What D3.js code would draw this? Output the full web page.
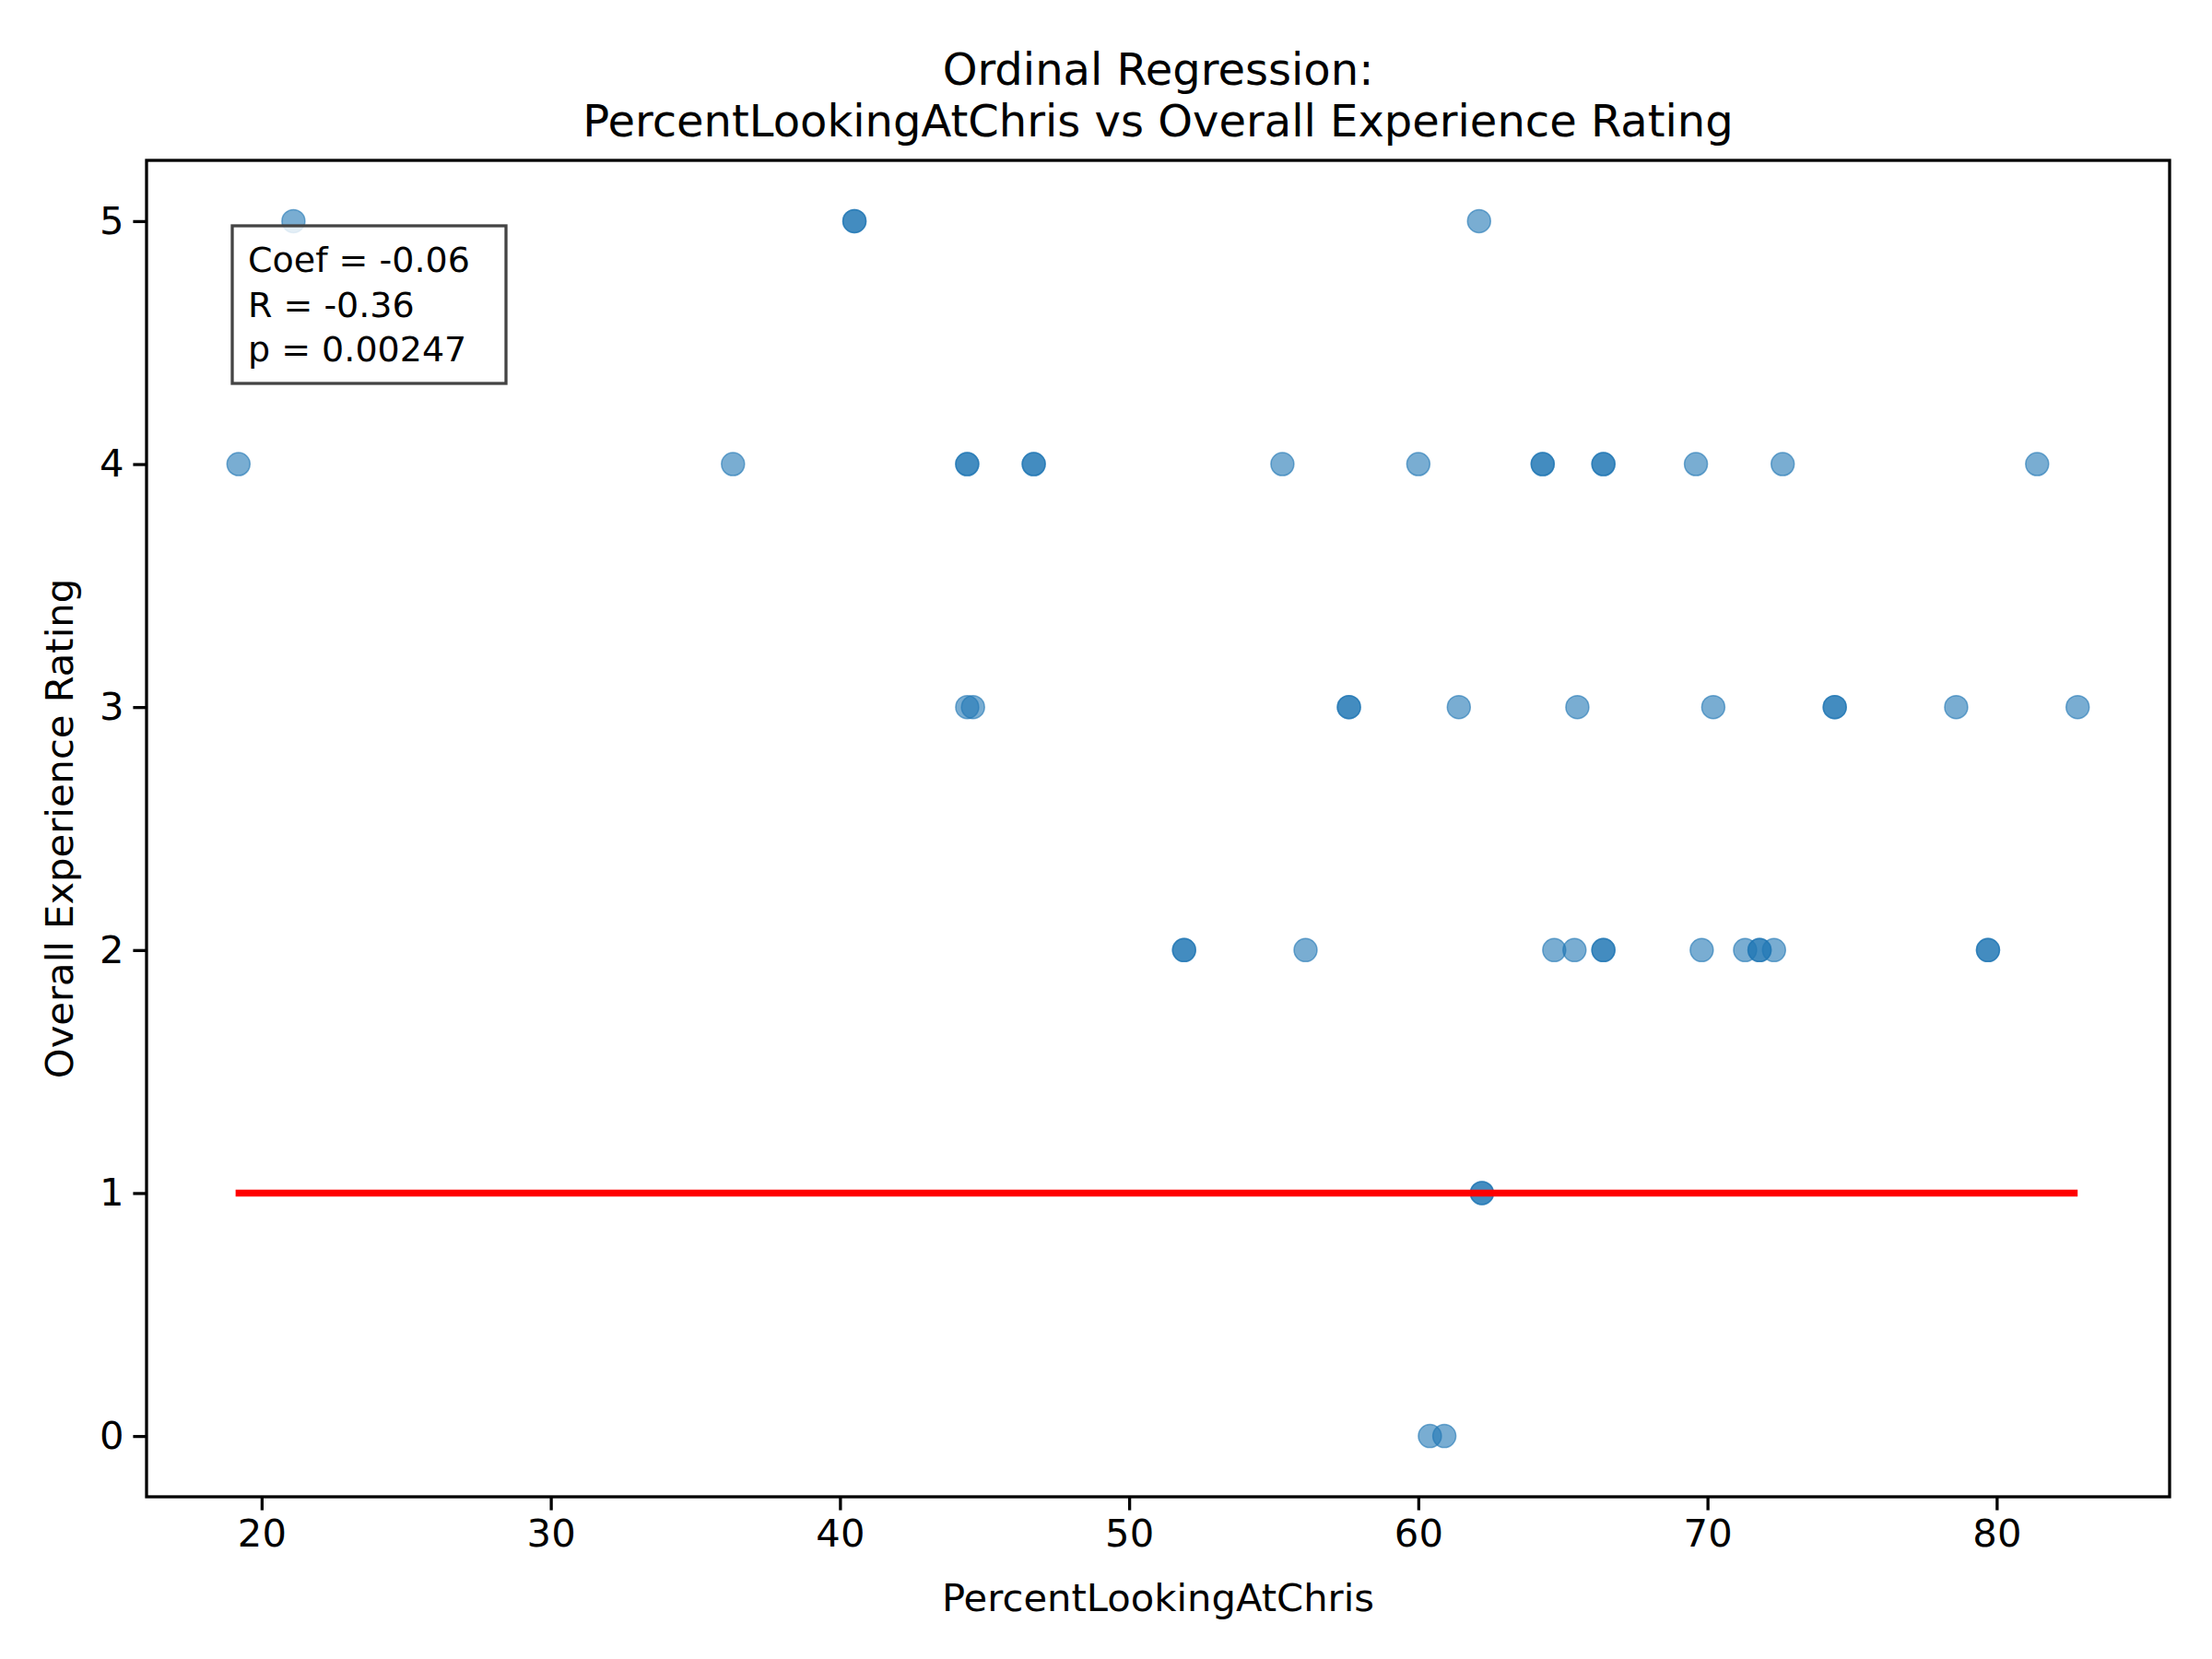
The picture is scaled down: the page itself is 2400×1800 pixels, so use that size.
<!DOCTYPE html>
<html>
<head>
<meta charset="utf-8">
<script src="https://cdn.jsdelivr.net/npm/d3@7"></script>
<style>
  body { margin: 0; background: #fff; }
  text { font-family: "DejaVu Sans", sans-serif; }
</style>
</head>
<body>
<div id="chart"></div>
<script>
// data
const xValues = [21.1, 40.5, 40.5, 62.1,
  19.2, 36.3, 44.4, 44.4, 46.7, 46.7, 55.3, 60.0, 64.3, 64.3, 66.4, 66.4, 69.6, 72.6, 81.4,
  44.4, 44.6, 57.6, 57.6, 61.4, 65.5, 70.2, 74.4, 74.4, 78.6, 82.8,
  51.9, 51.9, 56.1, 64.7, 65.4, 66.4, 66.4, 69.8, 71.3, 71.8, 71.8, 72.3, 79.7, 79.7,
  62.2, 62.2,
  60.4, 60.9];
const yValues = [5, 5, 5, 5,
  4, 4, 4, 4, 4, 4, 4, 4, 4, 4, 4, 4, 4, 4, 4,
  3, 3, 3, 3, 3, 3, 3, 3, 3, 3, 3,
  2, 2, 2, 2, 2, 2, 2, 2, 2, 2, 2, 2, 2, 2,
  1, 1,
  0, 0];
const fitX = [19.1, 82.8];
const fitY = [1, 1];
const xTicks = [20, 30, 40, 50, 60, 70, 80];
const yTicks = [0, 1, 2, 3, 4, 5];
const statsLines = ["Coef = -0.06", "R = -0.36", "p = 0.00247"];

const width = 2400, height = 1800;
const margin = {top: 174, right: 46, bottom: 176, left: 159};
const fs = 41.7;

const svg = d3.select("#chart").append("svg")
  .attr("width", width).attr("height", height);

let x = d3.scaleLinear().domain([16.02, 85.98]).range([margin.left, width - margin.right]);
let y = d3.scaleLinear().domain([-0.25, 5.25]).range([height - margin.bottom, margin.top]);

// axes
let xAxis = svg.append("g")
  .attr("transform", `translate(0, ${height - margin.bottom})`)
  .call(d3.axisBottom(x).tickValues(xTicks).tickSize(14.6).tickPadding(10).tickFormat(d3.format("d")));
let yAxis = svg.append("g")
  .attr("transform", `translate(${margin.left}, 0)`)
  .call(d3.axisLeft(y).tickValues(yTicks).tickSize(14.6).tickPadding(10).tickFormat(d3.format("d")));
[xAxis, yAxis].forEach(a => {
  a.select(".domain").remove();
  a.selectAll("line").attr("stroke", "#000").attr("stroke-width", 3.3);
  a.selectAll("text").style("font-size", fs + "px").attr("fill", "#000")
    .style("font-family", "DejaVu Sans, sans-serif");
});

// frame
svg.append("rect")
  .attr("x", margin.left).attr("y", margin.top)
  .attr("width", width - margin.left - margin.right)
  .attr("height", height - margin.top - margin.bottom)
  .attr("fill", "none").attr("stroke", "#000").attr("stroke-width", 3.3);

// points
svg.append("g").selectAll("circle")
  .data(xValues.map((d, i) => [d, yValues[i]]))
  .enter().append("circle")
  .attr("cx", d => x(d[0]))
  .attr("cy", d => y(d[1]))
  .attr("r", 12.5)
  .attr("fill", "#1f77b4")
  .attr("fill-opacity", 0.6)
  .attr("stroke", "#1f77b4")
  .attr("stroke-opacity", 0.6)
  .attr("stroke-width", 1.5);

// fit line
svg.append("path")
  .datum(fitX.map((d, i) => [d, fitY[i]]))
  .attr("d", d3.line().x(d => x(d[0])).y(d => y(d[1])))
  .attr("stroke", "red").attr("stroke-width", 7.5).attr("fill", "none");

// stats box
svg.append("rect")
  .attr("x", 252).attr("y", 245).attr("width", 297).attr("height", 171)
  .attr("fill", "#fff").attr("fill-opacity", 0.8)
  .attr("stroke", "#444").attr("stroke-width", 3.3);
statsLines.forEach((t, i) => {
  svg.append("text")
    .attr("x", 269).attr("y", 295 + i * 48.5)
    .style("font-size", "38px")
    .text(t);
});

// titles
svg.append("text")
  .attr("x", (margin.left + width - margin.right) / 2).attr("y", 92)
  .style("text-anchor", "middle").style("font-size", "48px")
  .text("Ordinal Regression:");
svg.append("text")
  .attr("x", (margin.left + width - margin.right) / 2).attr("y", 148)
  .style("text-anchor", "middle").style("font-size", "48px")
  .text("PercentLookingAtChris vs Overall Experience Rating");

svg.append("text")
  .attr("x", (margin.left + width - margin.right) / 2).attr("y", 1748)
  .style("text-anchor", "middle").style("font-size", fs + "px")
  .text("PercentLookingAtChris");
svg.append("text")
  .attr("transform", `translate(79, ${(margin.top + height - margin.bottom) / 2}) rotate(-90)`)
  .style("text-anchor", "middle").style("font-size", fs + "px")
  .text("Overall Experience Rating");
</script>
</body>
</html>
